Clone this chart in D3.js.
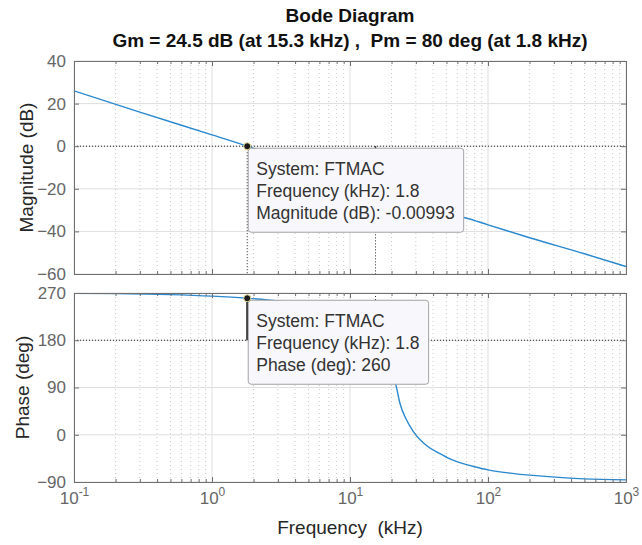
<!DOCTYPE html>
<html>
<head>
<meta charset="utf-8">
<script src="https://cdn.jsdelivr.net/npm/d3@7"></script>
<style>
  body { margin: 0; background: #fff; }
  svg { font-family: "Liberation Sans", Arial, Helvetica, sans-serif; }
</style>
</head>
<body>
<div id="bode"></div>
<script>
// values
var magFreq = [0.1, 0.3, 1, 1.8, 3, 5, 10, 15.3, 20, 30, 45, 68, 100, 200, 500, 1000];
var magDb   = [26, 16, 5.3, 0, -5, -10, -18.5, -24.5, -27.5, -30, -31.5, -33.6, -36.9, -43, -50.5, -56.5];

var phFreq   = [0.1, 0.2, 0.5, 1, 1.8, 3, 5, 8, 10, 12.5, 15.3, 18, 20, 21.5, 23, 25.7, 28.8, 36, 44.9, 53, 70, 80, 100, 150, 200, 500, 1000];
var phaseDeg = [269.5, 269, 267, 264, 260, 255, 247, 234, 225, 208, 180, 145, 118, 95, 60, 28, 6, -21, -36, -46, -57, -61, -67, -73.5, -77, -84, -86];

var magTicks   = [40, 20, 0, -20, -40, -60];
var phaseTicks = [270, 180, 90, 0, -90];
var freqTicks  = [0.1, 1, 10, 100, 1000];
var freqExp    = ["-1", "0", "1", "2", "3"];

// margins
var gm = 24.5, wcg = 15.3, pm = 80, wcp = 1.8;
var tipMag = -0.00993, tipPhase = 260, sysName = "FTMAC";

var width = 642, height = 545;
var svg = d3.select("#bode").append("svg")
  .attr("width", width).attr("height", height);

var x = d3.scaleLog().domain([0.1, 1000]).range([74, 626]);
var yMag = d3.scaleLinear().domain([-60, 40]).range([274, 61]);
var yPh = d3.scaleLinear().domain([-90, 270]).range([482, 293]);

var minors = [];
freqTicks.slice(0, 4).forEach(function(d) {
  for (var k = 2; k <= 9; k++) minors.push(d * k);
});

// title
svg.append("text").attr("x", 350).attr("y", 22).attr("text-anchor", "middle")
  .style("font-weight", "bold").style("font-size", "19px").attr("fill", "#111")
  .text("Bode Diagram");
svg.append("text").attr("x", 350).attr("y", 47).attr("text-anchor", "middle")
  .style("font-weight", "bold").style("font-size", "19px").attr("fill", "#111")
  .attr("xml:space", "preserve")
  .text("Gm = " + gm + " dB (at " + wcg + " kHz) ,  Pm = " + pm + " deg (at " + wcp + " kHz)");

function panel(y, yTicks, id) {
  var g = svg.append("g");
  var r = y.range();
  g.append("clipPath").attr("id", id).append("rect")
    .attr("x", x(0.1)).attr("y", r[1]).attr("width", x(1000) - x(0.1)).attr("height", r[0] - r[1]);

  // grid
  g.selectAll(".mg").data(minors).join("line")
    .attr("x1", function(d) { return x(d); }).attr("x2", function(d) { return x(d); })
    .attr("y1", r[1]).attr("y2", r[0])
    .attr("stroke", "#c8c8c8").attr("stroke-dasharray", "1,3");
  g.selectAll(".vg").data(freqTicks).join("line")
    .attr("x1", function(d) { return x(d); }).attr("x2", function(d) { return x(d); })
    .attr("y1", r[1]).attr("y2", r[0])
    .attr("stroke", "#dedede");
  g.selectAll(".hg").data(yTicks).join("line")
    .attr("x1", x(0.1)).attr("x2", x(1000))
    .attr("y1", function(d) { return y(d); }).attr("y2", function(d) { return y(d); })
    .attr("stroke", "#dedede");
  return g;
}

function frame(g, y, yTicks, showX) {
  var r = y.range();
  var axStroke = "#6f6f6f";
  var left = g.append("g").attr("transform", "translate(" + x(0.1) + ",0)")
    .call(d3.axisLeft(y).tickValues(yTicks).tickSize(-5).tickSizeOuter(0).tickPadding(8));
  g.append("g").attr("transform", "translate(" + x(1000) + ",0)")
    .call(d3.axisRight(y).tickValues(yTicks).tickSize(-5).tickSizeOuter(0).tickFormat(""));
  g.append("g").attr("transform", "translate(0," + r[1] + ")")
    .call(d3.axisTop(x).tickValues(minors).tickSize(-3).tickSizeOuter(0).tickFormat(""));
  g.append("g").attr("transform", "translate(0," + r[1] + ")")
    .call(d3.axisTop(x).tickValues(freqTicks).tickSize(-5).tickSizeOuter(0).tickFormat(""));
  g.append("g").attr("transform", "translate(0," + r[0] + ")")
    .call(d3.axisBottom(x).tickValues(minors).tickSize(-3).tickSizeOuter(0).tickFormat(""));
  var bot = g.append("g").attr("transform", "translate(0," + r[0] + ")")
    .call(d3.axisBottom(x).tickValues(freqTicks).tickSize(-5).tickSizeOuter(0).tickPadding(12).tickFormat(""));

  g.selectAll(".domain").attr("stroke", axStroke);
  g.selectAll(".tick line").attr("stroke", axStroke);
  left.selectAll("text").style("font-size", "17px").attr("fill", "#666");

  if (showX) {
    bot.selectAll(".tick text").each(function(d, i) {
      var t = d3.select(this).attr("dy", null).attr("y", 22)
        .style("font-size", "17px").attr("fill", "#666");
      t.append("tspan").text("10");
      t.append("tspan").attr("dy", -8).style("font-size", "12px").text(freqExp[i]);
    });
  }
}

function dataTip(px, py, lines) {
  var g = svg.append("g");
  var box = g.append("rect").attr("x", px + 1).attr("y", py + 2)
    .attr("rx", 3).attr("fill", "#f8f8fc").attr("stroke", "#a3a3a3");
  var maxw = 0;
  lines.forEach(function(s, i) {
    var t = g.append("text").attr("x", px + 9).attr("y", py + 29 + i * 22)
      .style("font-size", "17.5px").attr("fill", "#333").text(s);
    maxw = Math.max(maxw, t.node().getComputedTextLength());
  });
  box.attr("width", maxw + 17).attr("height", 84);
}

function marker(px, py) {
  svg.append("circle").attr("cx", px).attr("cy", py).attr("r", 3.5)
    .attr("fill", "#1a1a1a").attr("stroke", "#e6dc9a").attr("stroke-width", 1);
}

// ---- magnitude ----
var gMag = panel(yMag, magTicks, "clipMag");
var magLine = d3.line().curve(d3.curveMonotoneX)
  .x(function(d, i) { return x(magFreq[i]); })
  .y(function(d) { return yMag(d); });

gMag.append("line").attr("x1", x(0.1)).attr("x2", x(1000)).attr("y1", yMag(0)).attr("y2", yMag(0))
  .attr("stroke", "#222").attr("stroke-dasharray", "1,2");
gMag.append("line").attr("x1", x(wcp)).attr("x2", x(wcp)).attr("y1", yMag(0)).attr("y2", yMag(-60))
  .attr("stroke", "#222").attr("stroke-dasharray", "1,2");
gMag.append("line").attr("x1", x(wcg)).attr("x2", x(wcg)).attr("y1", yMag(-gm)).attr("y2", yMag(-60))
  .attr("stroke", "#222").attr("stroke-dasharray", "1,2");
gMag.append("line").attr("x1", x(wcg)).attr("x2", x(wcg)).attr("y1", yMag(0)).attr("y2", yMag(-gm))
  .attr("stroke", "#222").attr("stroke-width", 1.5);
gMag.append("path").datum(magDb).attr("clip-path", "url(#clipMag)")
  .attr("d", magLine).attr("fill", "none").attr("stroke", "#2a88cf").attr("stroke-width", 1.4);
frame(gMag, yMag, magTicks, false);

// ---- phase ----
var gPh = panel(yPh, phaseTicks, "clipPh");
var phLine = d3.line().curve(d3.curveMonotoneX)
  .x(function(d, i) { return x(phFreq[i]); })
  .y(function(d) { return yPh(d); });

gPh.append("line").attr("x1", x(0.1)).attr("x2", x(1000)).attr("y1", yPh(180)).attr("y2", yPh(180))
  .attr("stroke", "#222").attr("stroke-dasharray", "1,2");
gPh.append("line").attr("x1", x(wcg)).attr("x2", x(wcg)).attr("y1", yPh(270)).attr("y2", yPh(180))
  .attr("stroke", "#222").attr("stroke-dasharray", "1,2");
gPh.append("line").attr("x1", x(wcp)).attr("x2", x(wcp)).attr("y1", yPh(180)).attr("y2", yPh(180 + pm))
  .attr("stroke", "#222").attr("stroke-width", 2);
gPh.append("path").datum(phaseDeg).attr("clip-path", "url(#clipPh)")
  .attr("d", phLine).attr("fill", "none").attr("stroke", "#2a88cf").attr("stroke-width", 1.4);
frame(gPh, yPh, phaseTicks, true);

// axis labels
svg.append("text").attr("transform", "translate(33," + ((yMag.range()[0] + yMag.range()[1]) / 2) + ") rotate(-90)")
  .attr("text-anchor", "middle").style("font-size", "19px").attr("fill", "#262626").text("Magnitude (dB)");
svg.append("text").attr("transform", "translate(29," + ((yPh.range()[0] + yPh.range()[1]) / 2) + ") rotate(-90)")
  .attr("text-anchor", "middle").style("font-size", "19px").attr("fill", "#262626").text("Phase (deg)");
svg.append("text").attr("x", 350).attr("y", 534).attr("text-anchor", "middle")
  .attr("xml:space", "preserve")
  .style("font-size", "19px").attr("fill", "#262626").text("Frequency  (kHz)");

// data tips
dataTip(x(wcp), yMag(tipMag), ["System: " + sysName, "Frequency (kHz): " + wcp, "Magnitude (dB): " + tipMag]);
marker(x(wcp), yMag(tipMag));
dataTip(x(wcp), yPh(tipPhase), ["System: " + sysName, "Frequency (kHz): " + wcp, "Phase (deg): " + tipPhase]);
marker(x(wcp), yPh(tipPhase));
</script>
</body>
</html>
